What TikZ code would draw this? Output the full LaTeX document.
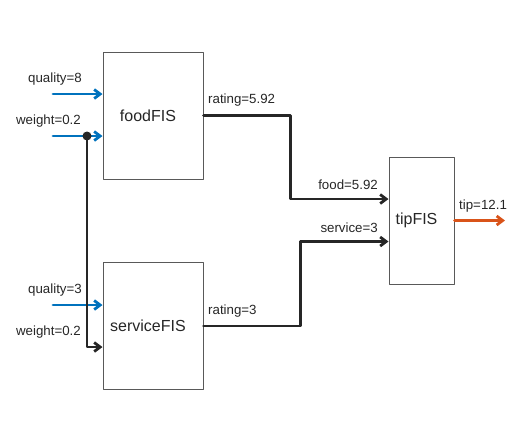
\documentclass[tikz,border=0pt]{standalone}
\usepackage{fontspec}
\setmainfont{Liberation Sans}
\usetikzlibrary{arrows.meta}
\definecolor{mlblue}{rgb}{0.,0.447,0.741}
\definecolor{mlorange}{rgb}{0.851,0.325,0.098}
\definecolor{dkgray}{rgb}{0.15,0.15,0.15}
\definecolor{boxgray}{rgb}{0.35,0.35,0.35}

\begin{document}
\begin{tikzpicture}[line cap=round,line join=round,>={Straight Barb[length=6pt,width=9pt]},x=1pt,y=-1pt,
fis/.style={draw=boxgray,line width=1pt,minimum width=100pt,minimum height=127pt,inner sep=0pt},
fislabel/.style={font=\fontsize{16}{18}\selectfont,text=dkgray,xshift=-5pt},
sig/.style={font=\fontsize{13.3}{15}\selectfont,text=dkgray,inner sep=0pt},
wire/.style={->,line width=2.8pt,draw=dkgray},
inwire/.style={->,line width=2.8pt,draw=mlblue},
outwire/.style={->,line width=2.8pt,draw=mlorange}]
\useasboundingbox (0,0) rectangle (528,440);
% fuzzy systems
\node [fis,label={[fislabel]center:foodFIS}] (food) at (153,115.5) {};
\node [fis,label={[fislabel]center:serviceFIS}] (service) at (153,326) {};
\node [fis,minimum width=65pt,label={[fislabel]center:tipFIS}] (tip) at (421.5,220.5) {};
% inputs
\coordinate (q8) at (53,94);
\coordinate (w1) at (53,136);
\coordinate (q3) at (53,305);
\coordinate (split) at (87,136);
\coordinate (tipout) at (505,220.5);
\node [sig,anchor=east] (q8lab) at (82,79.5) {quality=8};
\node [sig,anchor=east] (w1lab) at (81,121.5) {weight=0.2};
\node [sig,anchor=east] (q3lab) at (82,290.5) {quality=3};
\node [sig,anchor=east] (w2lab) at (81,332.5) {weight=0.2};
\draw [inwire] (q8) -- (q8 -| food.west);
\draw [inwire] (w1) -- (w1 -| food.west);
\draw [inwire] (q3) -- (q3 -| service.west);
\draw [wire] (split) |- ([yshift=-21pt]service.west);
\fill [dkgray] (split) circle (4.5pt);
% outputs
\node [sig,anchor=west] (foodrate) at (208,100.5) {rating=5.92};
\node [sig,anchor=west] (servrate) at (208,311.5) {rating=3};
\node [sig,anchor=east] (foodin) at (378,184.5) {food=5.92};
\node [sig,anchor=east] (servin) at (378,227.5) {service=3};
\node [sig,anchor=west] (tiplab) at (459,206.5) {tip=12.1};
\draw [wire] (food.east) -- ++(87,0) |- ([yshift=21.5pt]tip.west);
\draw [wire] (service.east) -- ++(97,0) |- ([yshift=-21pt]tip.west);
\draw [outwire] (tip.east) -- (tipout);
\end{tikzpicture}
\end{document}
